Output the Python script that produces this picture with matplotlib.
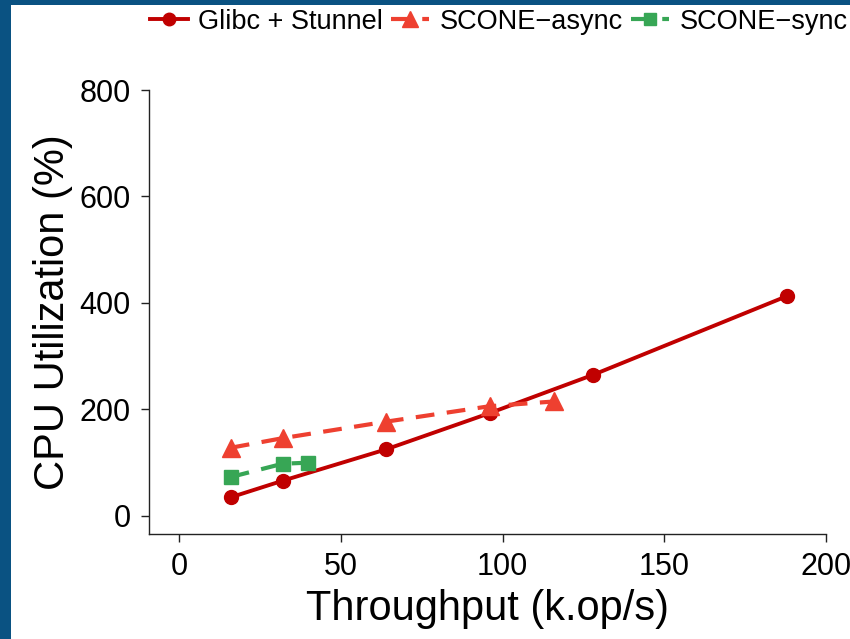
import matplotlib.pyplot as plt
from matplotlib.patches import Rectangle

plt.rcParams['font.family'] = ['Liberation Sans', 'DejaVu Sans']

glibc_x = [16, 32, 64, 96, 128, 188]
glibc_y = [35, 66, 125, 193, 265, 413]
async_x = [16, 32, 64, 96, 116]
async_y = [128, 146, 177, 206, 215]
sync_x = [16, 32, 40]
sync_y = [73, 98, 100]

x_ticks = [0, 50, 100, 150, 200]
y_ticks = [0, 200, 400, 600, 800]

fig = plt.figure(figsize=(8.5, 6.39), dpi=100)
fig.patch.set_facecolor('#0a5282')
fig.patches.append(Rectangle((11 / 850, 0), 1, 1 - 5 / 639, transform=fig.transFigure,
                             facecolor='white', edgecolor='none', zorder=-10))

ax = fig.add_axes([149 / 850, 1 - 534 / 639, (826 - 149) / 850, (534 - 90) / 639])
ax.set_facecolor('none')
ax.set_zorder(5)

ax.plot(glibc_x, glibc_y, color='#c00000', lw=2.8, marker='o', ms=10,
        label='Glibc + Stunnel')
ax.plot(async_x, async_y, color='#ee4030', lw=3.0, ls=(0, (4.5, 3)), marker='^', ms=13,
        label='SCONE\u2212async')
ax.plot(sync_x, sync_y, color='#37a655', lw=3.0, ls=(0, (4.5, 3)), marker='s', ms=10,
        label='SCONE\u2212sync')

ax.set_xlim(-9.3, 200)
ax.set_ylim(-34, 800)
ax.set_xticks(x_ticks)
ax.set_yticks(y_ticks)
for s in ['top', 'right']:
    ax.spines[s].set_visible(False)
for s in ['left', 'bottom']:
    ax.spines[s].set_linewidth(1.0)
    ax.spines[s].set_color('#222222')
ax.tick_params(axis='both', direction='out', length=6, width=1.0, color='#222222',
               labelsize=22, pad=7)

ax.set_xlabel('Throughput (k.op/s)', fontsize=30, labelpad=5)
ax.set_ylabel('CPU Utilization (%)', fontsize=30, labelpad=5)

leg = fig.legend(loc='center', bbox_to_anchor=(0.587, 0.966), ncol=3, frameon=False,
                 fontsize=19.5, handlelength=1.4, handletextpad=0.4, columnspacing=0.3,
                 borderpad=0, markerscale=0.9)
leg.set_zorder(6)

fig.savefig('out.png', dpi=100)
